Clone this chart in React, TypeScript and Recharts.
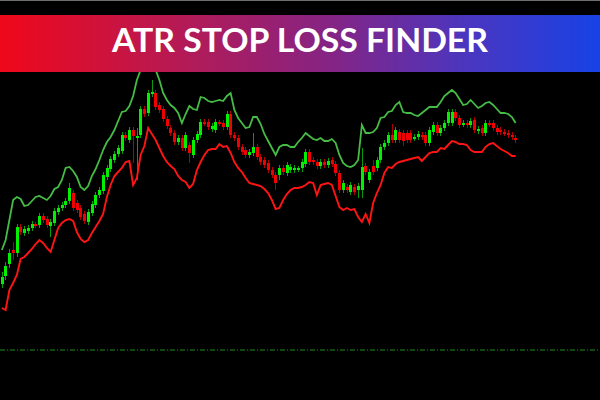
import React from "react";
import { ComposedChart, Bar, Line, XAxis, YAxis, ReferenceLine } from "recharts";

// candle prices, one entry per bar
const opens = [
  116, 124, 136, 150, 147, 173, 167, 169, 172, 176,
  175, 184, 181, 174, 177, 188, 192, 195, 199, 207,
  197, 192, 186, 178, 187, 195, 205, 209, 223, 231,
  240, 246, 249, 265, 260, 270, 262, 265, 291, 287,
  306, 307, 295, 291, 281, 272, 267, 258, 262, 252,
  255, 245, 260, 265, 278, 278, 271, 270, 278, 277,
  273, 286, 265, 262, 253, 250, 245, 247, 253, 243,
  240, 237, 230, 225, 225, 232, 227, 230, 230, 231,
  232, 236, 248, 240, 238, 234, 238, 235, 240, 236,
  227, 210, 213, 208, 213, 210, 210, 234, 220, 234,
  232, 240, 253, 257, 265, 260, 268, 267, 267, 267,
  262, 263, 265, 265, 257, 268, 275, 267, 272, 277,
  277, 288, 282, 276, 277, 275, 280, 269, 272, 267,
  277, 277, 272, 270, 268, 267, 265, 262,
];
const highs = [
  128, 138, 151, 158, 176, 176, 174, 175, 179, 178,
  187, 187, 184, 181, 192, 195, 198, 202, 217, 210,
  200, 195, 189, 191, 199, 208, 213, 228, 235, 244,
  249, 255, 268, 268, 273, 273, 272, 294, 294, 310,
  320, 310, 298, 294, 284, 275, 270, 265, 265, 268,
  258, 263, 269, 281, 281, 281, 277, 281, 280, 280,
  289, 289, 268, 265, 256, 253, 251, 267, 256, 246,
  243, 240, 233, 228, 235, 235, 238, 236, 235, 234,
  241, 251, 251, 243, 241, 241, 241, 242, 243, 239,
  230, 220, 216, 218, 216, 217, 252, 237, 231, 240,
  243, 256, 260, 268, 276, 273, 271, 270, 270, 270,
  266, 269, 268, 268, 273, 278, 278, 275, 280, 291,
  291, 291, 285, 280, 280, 282, 283, 274, 275, 280,
  280, 280, 275, 273, 271, 270, 268, 265,
];
const lows = [
  112, 120, 132, 140, 143, 165, 164, 166, 169, 172,
  172, 177, 172, 163, 174, 185, 189, 192, 196, 189,
  187, 180, 176, 175, 184, 192, 202, 206, 220, 228,
  237, 243, 246, 259, 257, 237, 220, 262, 283, 284,
  303, 290, 287, 278, 271, 264, 255, 255, 249, 249,
  237, 242, 257, 262, 274, 270, 268, 267, 274, 270,
  270, 262, 259, 250, 245, 242, 242, 244, 240, 235,
  232, 227, 222, 210, 220, 225, 224, 227, 227, 228,
  228, 233, 235, 235, 231, 231, 232, 232, 233, 224,
  207, 207, 207, 205, 205, 202, 202, 225, 217, 225,
  229, 237, 250, 254, 257, 257, 257, 254, 257, 257,
  259, 260, 260, 254, 254, 265, 264, 264, 269, 274,
  274, 279, 272, 273, 272, 272, 267, 266, 264, 264,
  273, 269, 265, 265, 264, 262, 260, 257,
];
const closes = [
  123, 134, 147, 147, 173, 168, 171, 172, 176, 175,
  184, 180, 175, 178, 189, 192, 195, 199, 212, 192,
  190, 183, 179, 188, 196, 205, 210, 225, 232, 241,
  246, 252, 265, 262, 270, 264, 264, 291, 286, 307,
  308, 293, 290, 281, 274, 267, 258, 262, 252, 265,
  247, 260, 266, 278, 277, 273, 274, 278, 277, 273,
  286, 265, 262, 253, 248, 245, 248, 253, 243, 238,
  235, 230, 225, 217, 232, 228, 235, 233, 232, 232,
  238, 248, 238, 238, 234, 238, 235, 239, 236, 227,
  210, 217, 210, 215, 208, 214, 233, 228, 228, 228,
  240, 253, 257, 265, 260, 270, 260, 259, 260, 260,
  263, 266, 263, 257, 270, 275, 267, 272, 277, 288,
  288, 282, 275, 277, 275, 279, 270, 271, 267, 277,
  276, 272, 268, 268, 267, 265, 263, 260,
];

// ATR stop bands
const upperBand = [
  150, 160, 180, 200, 203, 201, 194, 195, 199, 203,
  204, 202, 200, 204, 211, 213, 220, 232, 233, 229,
  223, 213, 210, 214, 224, 231, 240, 250, 258, 263,
  270, 279, 288, 289, 294, 304, 320, 330, 334, 334,
  332, 330, 320, 307, 300, 295, 292, 287, 277, 286,
  294, 291, 290, 303, 302, 299, 298, 299, 300, 299,
  304, 307, 290, 282, 277, 272, 273, 283, 283, 276,
  266, 259, 252, 245, 253, 255, 255, 253, 253, 258,
  262, 267, 264, 261, 260, 262, 259, 259, 261, 257,
  245, 237, 234, 233, 235, 240, 275, 267, 267, 268,
  272, 282, 283, 288, 289, 295, 298, 288, 287, 287,
  285, 284, 287, 290, 293, 293, 293, 298, 304, 307,
  310, 307, 301, 295, 296, 300, 296, 292, 294, 297,
  298, 295, 291, 287, 287, 286, 283, 277,
];
const lowerBand = [
  92, 90, 110, 117, 125, 141, 143, 147, 151, 156,
  160, 157, 152, 148, 160, 172, 177, 180, 181, 179,
  168, 161, 158, 160, 167, 173, 179, 186, 203, 215,
  224, 228, 232, 238, 239, 215, 222, 245, 254, 272,
  266, 260, 252, 244, 238, 234, 231, 224, 220, 218,
  212, 216, 230, 238, 245, 250, 251, 251, 256, 253,
  254, 247, 238, 232, 228, 222, 217, 216, 215, 214,
  211, 207, 200, 191, 192, 200, 206, 210, 212, 212,
  213, 215, 218, 217, 205, 215, 216, 217, 215, 204,
  193, 190, 192, 190, 191, 183, 178, 186, 177, 197,
  207, 215, 227, 233, 232, 236, 238, 239, 240, 241,
  242, 243, 239, 243, 247, 248, 248, 252, 251, 255,
  259, 258, 256, 256, 255, 250, 248, 248, 248, 253,
  256, 257, 254, 251, 249, 247, 244, 244,
];

const baseLevel = 50;
const totalSlots = 160;

const data = Array.from({ length: totalSlots }, (_, i) =>
  i < opens.length
    ? {
        i,
        open: opens[i],
        high: highs[i],
        low: lows[i],
        close: closes[i],
        range: [lows[i], highs[i]],
        upper: upperBand[i],
        lower: lowerBand[i],
      }
    : { i, open: null, high: null, low: null, close: null, range: null, upper: null, lower: null }
);

const Candle = (props: any) => {
  const { x, y, width, height, payload } = props;
  if (!payload || payload.open == null || !isFinite(y) || !isFinite(height)) return null;
  const { open, close, high, low } = payload;
  const top = Math.min(y, y + height);
  const h = Math.abs(height);
  const span = high - low || 1;
  const toY = (v: number) => top + ((high - v) / span) * h;
  const up = close >= open;
  const cx = Math.round(x + width / 2);
  const bTop = toY(Math.max(open, close));
  const bBot = toY(Math.min(open, close));
  return (
    <g shapeRendering="crispEdges">
      <line
        x1={cx + 0.5}
        x2={cx + 0.5}
        y1={top}
        y2={top + h}
        stroke={up ? "#0b9a0b" : "#b00000"}
        strokeWidth={1}
      />
      <rect
        x={cx - 1}
        y={bTop}
        width={3}
        height={Math.max(1.5, bBot - bTop)}
        fill={up ? "#00f000" : "#f00000"}
      />
    </g>
  );
};

export default function App() {
  return (
    <div
      style={{
        position: "absolute",
        left: 0,
        top: 0,
        width: 600,
        height: 400,
        background: "#000",
        overflow: "hidden",
      }}
    >
      <div style={{ position: "absolute", left: 0, top: 0, width: 600, height: 1, background: "#6e6e6e" }} />
      <ComposedChart width={600} height={400} data={data} margin={{ top: 0, right: 0, bottom: 0, left: 0 }}>
        <XAxis dataKey="i" hide />
        <YAxis hide domain={[0, 400]} />
        <ReferenceLine y={baseLevel} stroke="#1f8f1f" strokeDasharray="5 2 1 2" strokeWidth={1} />
        <Line
          dataKey="upper"
          type="linear"
          stroke="#45bd45"
          strokeWidth={1.8}
          dot={false}
          activeDot={false}
          isAnimationActive={false}
        />
        <Line
          dataKey="lower"
          type="linear"
          stroke="#ff1414"
          strokeWidth={1.9}
          dot={false}
          activeDot={false}
          isAnimationActive={false}
        />
        <Bar dataKey="range" barSize={3} shape={<Candle />} isAnimationActive={false} />
      </ComposedChart>
      <svg
        width={600}
        height={57}
        style={{ position: "absolute", left: 0, top: 15 }}
      >
        <defs>
          <linearGradient id="bannerGrad" x1="0" y1="0" x2="1" y2="0">
            <stop offset="0%" stopColor="#f0081a" />
            <stop offset="30%" stopColor="#b51a55" />
            <stop offset="55%" stopColor="#852484" />
            <stop offset="78%" stopColor="#4a36c0" />
            <stop offset="100%" stopColor="#1742e6" />
          </linearGradient>
        </defs>
        <rect x={0} y={0} width={600} height={57} fill="url(#bannerGrad)" />
        <text
          x={112}
          y={37}
          textLength={376}
          lengthAdjust="spacingAndGlyphs"
          fill="#fff"
          fontFamily="Lato, 'Open Sans', sans-serif"
          fontWeight={700}
          fontSize={33}
        >
          ATR STOP LOSS FINDER
        </text>
      </svg>
    </div>
  );
}
